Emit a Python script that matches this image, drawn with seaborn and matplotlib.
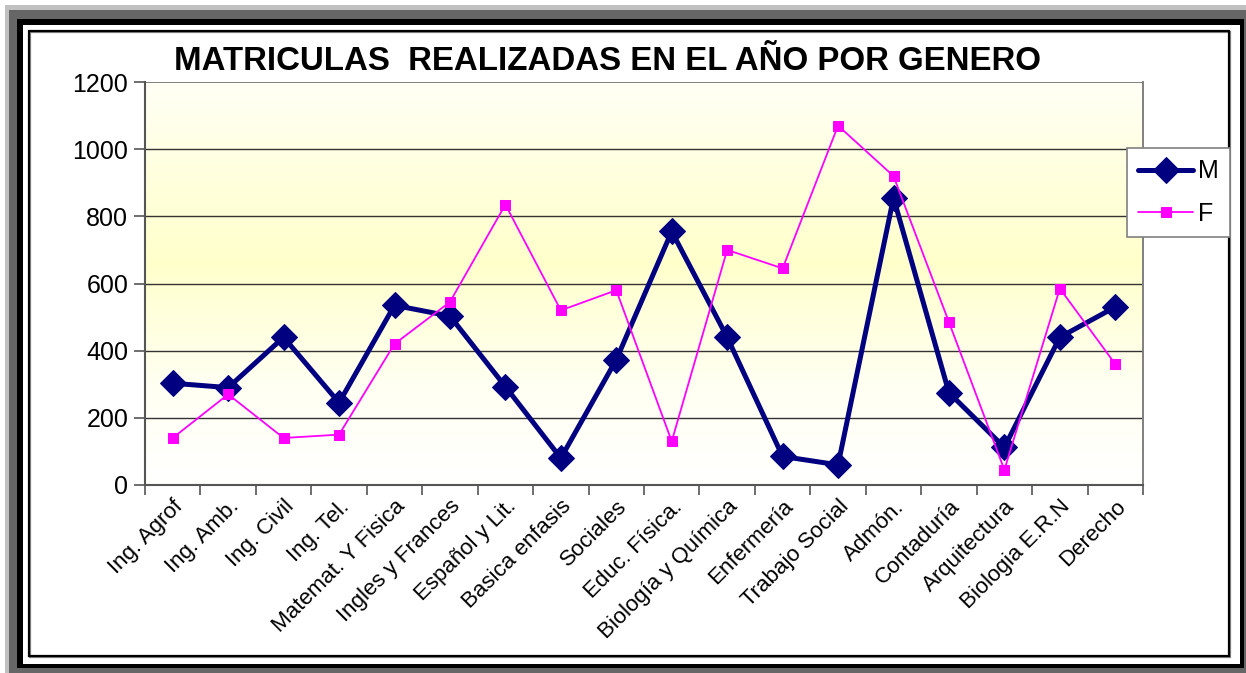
import numpy as np
import pandas as pd
import matplotlib
matplotlib.use("Agg")
import matplotlib.pyplot as plt
from matplotlib.patches import Rectangle
from matplotlib.colors import LinearSegmentedColormap
import seaborn as sns

categories = ["Ing. Agrof", "Ing. Amb.", "Ing. Civil", "Ing. Tel.", "Matemat. Y Fisica",
              "Ingles y Frances", "Español y Lit.", "Basica enfasis", "Sociales", "Educ. Física.",
              "Biología y Química", "Enfermería", "Trabajo Social", "Admón.", "Contaduría",
              "Arquitectura", "Biologia E.R.N", "Derecho"]
M = [303, 290, 440, 245, 535, 503, 293, 80, 373, 755, 440, 85, 60, 855, 275, 112, 440, 530]
F = [140, 270, 140, 150, 420, 545, 835, 520, 580, 130, 700, 645, 1070, 920, 485, 45, 585, 360]
yticks = [0, 200, 400, 600, 800, 1000, 1200]
title = "MATRICULAS  REALIZADAS EN EL AÑO POR GENERO"

sns.set_theme(style="white")
plt.rcParams['font.family'] = ['Liberation Sans', 'DejaVu Sans']
plt.rcParams['text.color'] = 'black'
plt.rcParams['xtick.color'] = 'black'
plt.rcParams['ytick.color'] = 'black'

W, H = 1246, 673
fig = plt.figure(figsize=(W / 100, H / 100), dpi=100)
fig.patch.set_facecolor("white")

def rect(x0, y0, x1, y1, **kw):
    r = Rectangle((x0 / W, 1 - y1 / H), (x1 - x0) / W, (y1 - y0) / H,
                  transform=fig.transFigure, **kw)
    fig.add_artist(r)
    return r

rect(5, 5, 1246, 673, facecolor="#c0c0c0", edgecolor="none", zorder=-10)
rect(9, 10, 1246, 673, facecolor="#666666", edgecolor="none", zorder=-9)
rect(17, 19, 1244, 668, facecolor="black", edgecolor="none", zorder=-8)
rect(23, 25, 1240, 664, facecolor="white", edgecolor="none", zorder=-7)
rect(30, 32, 1230, 657, facecolor="none", edgecolor="#888888", linewidth=1.6, zorder=-6)
rect(29, 31, 1229, 656, facecolor="none", edgecolor="black", linewidth=1.6, zorder=-5)

left, right, top, bottom = 145, 1143, 82, 485
ax = fig.add_axes([left / W, 1 - bottom / H, (right - left) / W, (bottom - top) / H])

# gradient background
cmap = LinearSegmentedColormap.from_list("bg", [(0, "#ffffff"), (0.25, "#fffff2"), (0.55, "#ffffcc"),
                                                (0.75, "#ffffdc"), (1.0, "#fffff6")])
grad = np.linspace(0, 1, 256).reshape(-1, 1)
n = len(categories)
ax.imshow(grad, extent=[-0.5, n - 0.5, 0, 1200], origin="lower", aspect="auto",
          cmap=cmap, zorder=0, interpolation="bicubic")

for yv in yticks[1:-1]:
    ax.axhline(yv, color="#333333", linewidth=1.0, zorder=1)
ax.axhline(1200, color="#808080", linewidth=1.4, zorder=1)

x = np.arange(n)
df = pd.DataFrame({"pos": np.concatenate([x, x]),
                   "valor": M + F,
                   "serie": ["M"] * n + ["F"] * n})

sns.lineplot(data=df[df.serie == "M"], x="pos", y="valor", ax=ax, color="#000080",
             linewidth=3.6, marker="D", markersize=13, markeredgecolor="#000080",
             label="M", zorder=4)
sns.lineplot(data=df[df.serie == "F"], x="pos", y="valor", ax=ax, color="#ff00ff",
             linewidth=1.3, marker="s", markersize=7.5, markeredgecolor="#ff00ff",
             label="F", zorder=5)

ax.set_xlim(-0.5, n - 0.5)
ax.set_ylim(0, 1200)
ax.set_xlabel("")
ax.set_ylabel("")

ax.set_yticks(yticks)
ax.set_yticklabels([str(v) for v in yticks], fontsize=18, color="black")
ax.set_xticks(x)
ax.set_xticklabels(categories, fontsize=16, rotation=45, ha="right", rotation_mode="anchor", color="black")
ax.set_xticks(np.arange(n + 1) - 0.5, minor=True)
ax.tick_params(axis="x", which="major", length=0, pad=8)
ax.tick_params(axis="x", which="minor", length=7, width=1.2, color="#555555", direction="out", bottom=True)
ax.tick_params(axis="y", which="major", length=8, width=1.2, color="#555555", direction="out", left=True, pad=4)

for s in ["left", "bottom"]:
    ax.spines[s].set_color("#555555")
    ax.spines[s].set_linewidth(1.5)
ax.spines["right"].set_color("#808080")
ax.spines["right"].set_linewidth(1.4)
ax.spines["top"].set_visible(False)

leg = ax.legend(loc="upper left", bbox_to_anchor=((1127 - left) / (right - left), (bottom - 148) / (bottom - top)),
                fontsize=18, frameon=True, fancybox=False, framealpha=1, edgecolor="#808080",
                handlelength=2.2, borderpad=0.45, labelspacing=0.75, handletextpad=0.2, borderaxespad=0)
leg.get_frame().set_linewidth(1.2)

fig.text(608 / W, 1 - 61 / H, title, ha="center", va="center", fontsize=23.8, fontweight="bold", color="black")

fig.savefig("out.png", dpi=100)
